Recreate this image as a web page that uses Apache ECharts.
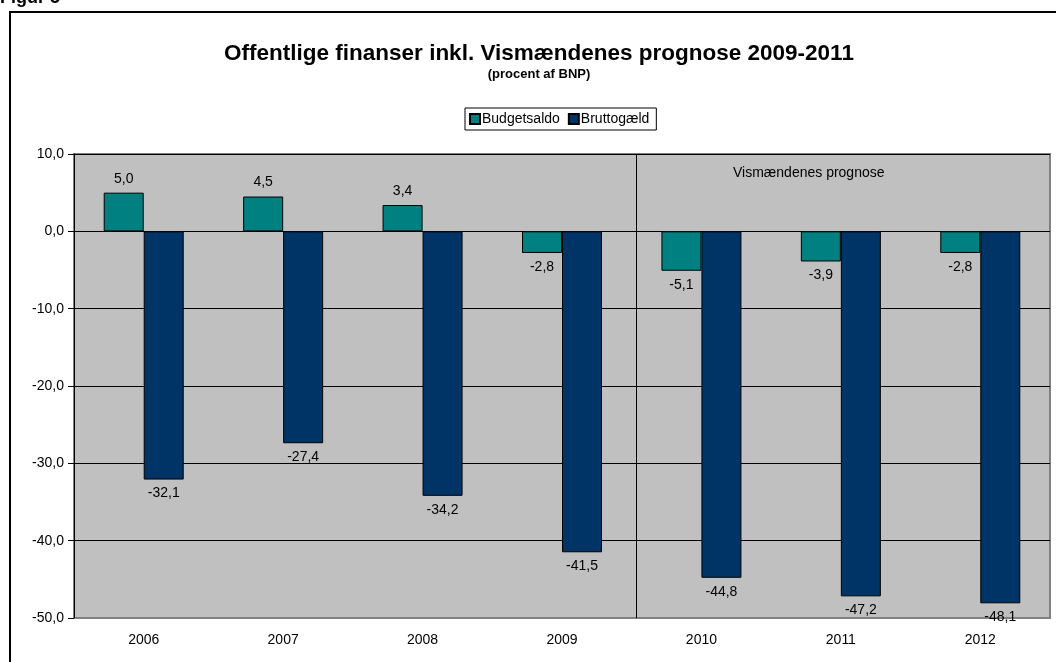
<!DOCTYPE html>
<html>
<head>
<meta charset="utf-8">
<script src="https://cdn.jsdelivr.net/npm/echarts@6/dist/echarts.min.js"></script>
<style>
  html, body { margin: 0; padding: 0; background: #fff; }
  #chart { width: 1056px; height: 662px; }
</style>
</head>
<body>
<div id="chart"></div>
<script>
// data
var years = ['2006', '2007', '2008', '2009', '2010', '2011', '2012'];
var budgetsaldo = [5.0, 4.5, 3.4, -2.8, -5.1, -3.9, -2.8];
var bruttogaeld = [-32.1, -27.4, -34.2, -41.5, -44.8, -47.2, -48.1];
var seriesNames = ['Budgetsaldo', 'Bruttogæld'];
var forecastStart = 4.03; // divider between 2009 and 2010 (category units)

function fmt(v) {
  return v.toFixed(1).replace('.', ',');
}

function toItems(arr) {
  return arr.map(function (v) {
    return { value: v, label: { position: v >= 0 ? 'top' : 'bottom' } };
  });
}

var font = 'Arial, "Liberation Sans", sans-serif';
var myChart = echarts.init(document.getElementById('chart'));

var option = {
  backgroundColor: '#fff',
  animation: false,
  textStyle: { fontFamily: font },
  title: {
    text: 'Offentlige finanser inkl. Vismændenes prognose 2009-2011',
    subtext: '(procent af BNP)',
    left: 534,
    textAlign: 'center',
    top: 37,
    itemGap: 3,
    textStyle: { fontSize: 22.5, fontWeight: 'bold', color: '#000', fontFamily: font },
    subtextStyle: { fontSize: 13, fontWeight: 'bold', color: '#000', fontFamily: font }
  },
  legend: {
    data: seriesNames,
    left: 465,
    top: 108,
    icon: 'rect',
    itemWidth: 10,
    itemHeight: 10,
    itemGap: 8,
    padding: [4, 7, 4, 4],
    borderColor: '#000',
    borderWidth: 1,
    textStyle: { fontSize: 14, color: '#000', padding: [0, 0, 0, -3] }
  },
  grid: {
    left: 74,
    right: 6,
    top: 154,
    bottom: 44,
    show: true,
    backgroundColor: '#c0c0c0',
    borderColor: '#808080',
    borderWidth: 2
  },
  xAxis: [
    {
      type: 'category',
      data: years,
      axisLine: { onZero: false, lineStyle: { color: '#808080', width: 1 } },
      axisTick: { show: false },
      axisLabel: { color: '#000', fontSize: 14, margin: 15 }
    },
    {
      type: 'value',
      min: 0,
      max: 7,
      show: false
    }
  ],
  yAxis: {
    type: 'value',
    min: -50,
    max: 10,
    interval: 10,
    axisLine: { show: true, lineStyle: { color: '#000', width: 1 } },
    axisTick: { show: true, length: 6, lineStyle: { color: '#000' } },
    axisLabel: { color: '#000', fontSize: 14, margin: 10, formatter: function (v) { return fmt(v); } },
    splitLine: { lineStyle: { color: '#000', width: 1 } }
  },
  graphic: [
    {
      type: 'rect',
      shape: { x: 10, y: 12, width: 1100, height: 700 },
      style: { fill: 'none', stroke: '#000', lineWidth: 2 },
      silent: true
    },
    {
      type: 'text',
      left: 0,
      top: -11,
      style: { text: 'Figur 5', font: 'bold 18px ' + font, fill: '#000' }
    },
    {
      type: 'text',
      left: 733,
      top: 166,
      style: { text: 'Vismændenes prognose', font: '14px ' + font, fill: '#000' }
    }
  ],
  series: [
    {
      name: seriesNames[0],
      type: 'bar',
      barWidth: 40,
      barGap: '0%',
      data: toItems(budgetsaldo),
      itemStyle: { color: '#008080', borderColor: '#000', borderWidth: 1 },
      label: { show: true, color: '#000', fontSize: 14, distance: 7, formatter: function (p) { return fmt(p.value); } }
    },
    {
      name: seriesNames[1],
      type: 'bar',
      barWidth: 40,
      barGap: '0%',
      data: toItems(bruttogaeld),
      itemStyle: { color: '#003366', borderColor: '#000', borderWidth: 1 },
      label: { show: true, color: '#000', fontSize: 14, distance: 7, formatter: function (p) { return fmt(p.value); } }
    },
    {
      name: 'divider',
      type: 'line',
      xAxisIndex: 1,
      data: [],
      silent: true,
      markLine: {
        silent: true,
        symbol: 'none',
        label: { show: false },
        lineStyle: { color: '#000', width: 1, type: 'solid' },
        data: [{ xAxis: forecastStart }]
      }
    }
  ]
};

myChart.setOption(option);
</script>
</body>
</html>
